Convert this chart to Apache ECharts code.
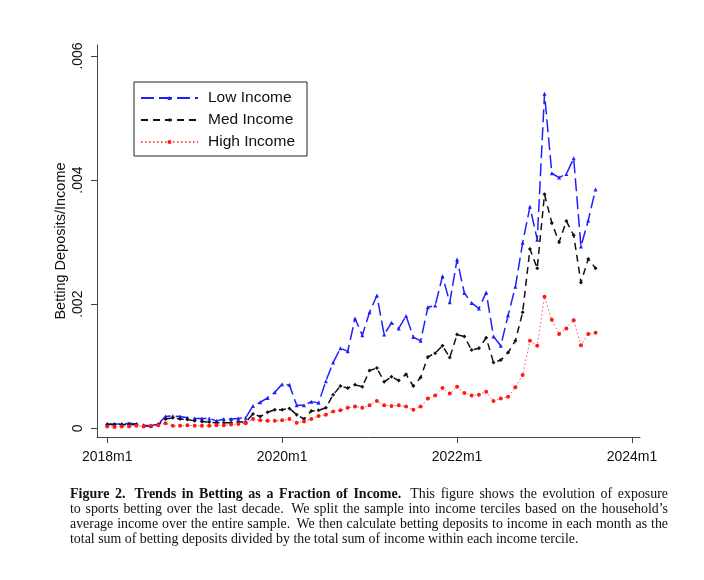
<!DOCTYPE html>
<html>
<head>
<meta charset="utf-8">
<script src="https://cdn.jsdelivr.net/npm/echarts@6/dist/echarts.min.js"></script>
<style>html,body{margin:0;padding:0;background:#fff;}#c{width:704px;height:580px;}</style>
</head>
<body>
<div id="c"></div>
<script>
// Monthly values, 2018m1 .. 2023m8 (index 0 = 2018m1)
const lowIncome = [0.00007,0.00007,0.00007,0.00008,0.00007,0.00005,0.00004,0.00007,0.00019,0.00020,
  0.00019,0.00017,0.00016,0.00016,0.00016,0.00012,0.00015,0.00015,0.00016,0.00017,
  0.00036,0.00042,0.00049,0.00058,0.00071,0.00070,0.00037,0.00037,0.00043,0.00041,
  0.00076,0.00106,0.00129,0.00124,0.00177,0.00150,0.00187,0.00214,0.00151,0.00170,
  0.00161,0.00181,0.00147,0.00141,0.00195,0.00198,0.00245,0.00203,0.00272,0.00218,
  0.00202,0.00193,0.00219,0.00148,0.00133,0.00182,0.00228,0.00299,0.00357,0.00304,
  0.00539,0.00411,0.00404,0.00410,0.00435,0.00293,0.00335,0.00385];
const medIncome = [0.00006,0.00006,0.00006,0.00006,0.00006,0.00004,0.00003,0.00006,0.00015,0.00017,
  0.00015,0.00014,0.00012,0.00011,0.00010,0.00009,0.00009,0.00009,0.00010,0.00010,
  0.00023,0.00019,0.00026,0.00030,0.00030,0.00032,0.00022,0.00015,0.00028,0.00029,
  0.00033,0.00054,0.00068,0.00065,0.00070,0.00067,0.00093,0.00097,0.00075,0.00083,
  0.00077,0.00087,0.00068,0.00082,0.00115,0.00121,0.00133,0.00114,0.00151,0.00148,
  0.00126,0.00129,0.00146,0.00106,0.00110,0.00122,0.00141,0.00187,0.00289,0.00258,
  0.00377,0.00331,0.00300,0.00334,0.00311,0.00235,0.00273,0.00258];
const highIncome = [0.00003,0.00002,0.00003,0.00003,0.00004,0.00003,0.00004,0.00005,0.00008,0.00004,
  0.00004,0.00005,0.00004,0.00004,0.00004,0.00005,0.00005,0.00006,0.00007,0.00008,
  0.00015,0.00013,0.00012,0.00012,0.00013,0.00015,0.00009,0.00011,0.00015,0.00020,
  0.00022,0.00027,0.00029,0.00033,0.00035,0.00033,0.00037,0.00044,0.00037,0.00036,
  0.00037,0.00035,0.00030,0.00035,0.00048,0.00053,0.00065,0.00056,0.00067,0.00057,
  0.00053,0.00054,0.00059,0.00044,0.00048,0.00051,0.00066,0.00086,0.00141,0.00133,
  0.00212,0.00175,0.00152,0.00161,0.00174,0.00134,0.00152,0.00154];
const xTickPos = [0, 24, 48, 72];
const xTickLabels = ['2018m1', '2020m1', '2022m1', '2024m1'];
const yTickVals = [0, 0.002, 0.004, 0.006];
const yTickLabels = ['0', '.002', '.004', '.006'];
const seriesNames = ['Low Income', 'Med Income', 'High Income'];
const captionBold = 'Figure 2.  Trends in Betting as a Fraction of Income.';
const captionLines = [
  'This figure shows the evolution of exposure',
  'to sports betting over the last decade.  We split the sample into income terciles based on the household\u2019s',
  'average income over the entire sample.  We then calculate betting deposits to income in each month as the',
  'total sum of betting deposits divided by the total sum of income within each income tercile.'
];

const toPairs = arr => arr.map((v, i) => [i, v]);
const chart = echarts.init(document.getElementById('c'), null, {renderer: 'canvas'});
const axisColor = '#444';
const font = 'Liberation Sans, Arial, Helvetica, sans-serif';
const capFont = '13.9px "Liberation Serif", serif';
const capBold = 'bold 14px "Liberation Serif", serif';

// Justified caption layout (word placement)
const mctx = document.createElement('canvas').getContext('2d');
function measure(t, f) { mctx.font = f; return mctx.measureText(t).width; }
const capLeft = 70, capRight = 668, capTop = 494, capStep = 15;
const captionGraphics = [];
function layoutLine(words, yc, justify) {
  const widths = words.map(w => measure(w.t, w.f));
  const total = widths.reduce((a, b) => a + b, 0);
  const weights = words.slice(0, -1).map(w => /\.$/.test(w.t) ? 1.6 : 1);
  const wsum = weights.reduce((a, b) => a + b, 0);
  const unit = justify ? (capRight - capLeft - total) / wsum : measure(' ', capFont);
  let x = capLeft;
  words.forEach((w, i) => {
    captionGraphics.push({type: 'text', silent: true,
      style: {text: w.t, x: x, y: yc, font: w.f, fill: '#111', verticalAlign: 'middle', align: 'left'}});
    x += widths[i] + (i < weights.length ? weights[i] * unit : 0);
  });
}
const splitW = (s, f) => s.split(/\s+/).filter(Boolean).map(t => ({t, f}));
layoutLine(splitW(captionBold, capBold).concat(splitW(captionLines[0], capFont)), capTop, true);
layoutLine(splitW(captionLines[1], capFont), capTop + capStep, true);
layoutLine(splitW(captionLines[2], capFont), capTop + 2 * capStep, true);
layoutLine(splitW(captionLines[3], capFont), capTop + 3 * capStep, false);

chart.setOption({
  backgroundColor: '#fff',
  animation: false,
  grid: {left: 97, right: 64, top: 45, bottom: 143, containLabel: false},
  xAxis: {
    type: 'value', min: -1.4, max: 73.1,
    axisLine: {show: true, onZero: false, lineStyle: {color: axisColor, width: 1}},
    axisTick: {show: true, length: 6, customValues: xTickPos, lineStyle: {color: axisColor}},
    axisLabel: {customValues: xTickPos, margin: 13, fontSize: 14, color: '#111', fontFamily: font,
      formatter: v => xTickLabels[xTickPos.indexOf(Math.round(v))] || ''},
    splitLine: {show: false}
  },
  yAxis: {
    type: 'value', min: -0.00014, max: 0.006177,
    name: 'Betting Deposits/Income', nameLocation: 'middle', nameGap: 29, nameRotate: 90,
    nameMoveOverlap: false,
    nameTextStyle: {fontSize: 14.5, color: '#111', fontFamily: font},
    axisLine: {show: true, onZero: false, lineStyle: {color: axisColor, width: 1}},
    axisTick: {show: true, length: 6, customValues: yTickVals, lineStyle: {color: axisColor}},
    axisLabel: {customValues: yTickVals, rotate: 90, margin: 12, fontSize: 14, color: '#111', fontFamily: font,
      formatter: v => { let k = yTickVals.findIndex(t => Math.abs(t - v) < 1e-7); return k >= 0 ? yTickLabels[k] : ''; }},
    splitLine: {show: false}
  },
  legend: {
    left: 134, top: 82, orient: 'vertical',
    data: seriesNames,
    itemWidth: 57, itemHeight: 5, itemGap: 6,
    padding: [8, 12, 6, 6],
    borderColor: '#222', borderWidth: 1,
    textStyle: {fontSize: 15.5, color: '#111', fontFamily: font, padding: [0, 0, 0, 5]}
  },
  series: [
    {name: seriesNames[0], type: 'line', data: toPairs(lowIncome),
      color: '#1f1fff', symbol: 'triangle', symbolSize: 4,
      lineStyle: {color: '#1f1fff', width: 1.5, type: [13, 5]},
      itemStyle: {color: '#1f1fff'}},
    {name: seriesNames[1], type: 'line', data: toPairs(medIncome),
      color: '#111', symbol: 'diamond', symbolSize: 4,
      lineStyle: {color: '#111', width: 1.5, type: [7, 5]},
      itemStyle: {color: '#111'}},
    {name: seriesNames[2], type: 'line', data: toPairs(highIncome),
      color: '#ff1a1a', symbol: 'circle', symbolSize: 4,
      lineStyle: {color: '#ff5050', width: 1, type: [1.5, 2.5]},
      itemStyle: {color: '#ff1a1a'}}
  ],
  graphic: captionGraphics
});
</script>
</body>
</html>
